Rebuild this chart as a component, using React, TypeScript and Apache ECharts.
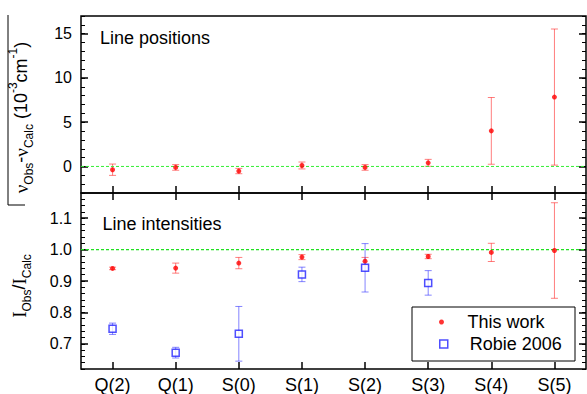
import React, { useEffect, useRef } from 'react';
import * as echarts from 'echarts';

const categories = ['Q(2)', 'Q(1)', 'S(0)', 'S(1)', 'S(2)', 'S(3)', 'S(4)', 'S(5)'];
const positionValues = [-0.37, -0.11, -0.52, 0.11, -0.11, 0.41, 4.02, 7.84];
const positionErrors = [0.64, 0.32, 0.3, 0.39, 0.32, 0.39, 3.77, 7.69];
const intensityValues = [0.94, 0.941, 0.957, 0.976, 0.963, 0.978, 0.991, 0.997];
const intensityErrors = [0.004, 0.016, 0.018, 0.008, 0.012, 0.007, 0.029, 0.152];
const robieCategories = ['Q(2)', 'Q(1)', 'S(0)', 'S(1)', 'S(2)', 'S(3)'];
const robieValues = [0.748, 0.672, 0.732, 0.921, 0.942, 0.894];
const robieErrors = [0.018, 0.017, 0.087, 0.023, 0.077, 0.039];
const positionReference = 0;
const intensityReference = 1.0;

const posMajorTicks = [0, 5, 10, 15];
const posMinorTicks = [-3, -2, -1, 0, 1, 2, 3, 4, 5, 6, 7, 8, 9, 10, 11, 12, 13, 14, 15, 16, 17];
const intMajorTicks = [0.7, 0.8, 0.9, 1.0, 1.1];
const intMinorTicks = [0.62, 0.64, 0.66, 0.68, 0.7, 0.72, 0.74, 0.76, 0.78, 0.8, 0.82, 0.84, 0.86, 0.88, 0.9,
  0.92, 0.94, 0.96, 0.98, 1.0, 1.02, 1.04, 1.06, 1.08, 1.1, 1.12, 1.14, 1.16, 1.18];

const SANS = '"Liberation Sans", Arial, sans-serif';
const SERIF = '"Liberation Serif", "Times New Roman", serif';

const errorBar = (color: string, cap: number) => (params: any, api: any) => {
  const x = api.value(0);
  const lo = api.coord([x, api.value(1)]);
  const hi = api.coord([x, api.value(2)]);
  const style = { stroke: color, lineWidth: 1 };
  return {
    type: 'group',
    children: [
      { type: 'line', shape: { x1: lo[0], y1: lo[1], x2: hi[0], y2: hi[1] }, style },
      { type: 'line', shape: { x1: lo[0] - cap, y1: lo[1], x2: lo[0] + cap, y2: lo[1] }, style },
      { type: 'line', shape: { x1: hi[0] - cap, y1: hi[1], x2: hi[0] + cap, y2: hi[1] }, style },
    ],
  };
};

const yAx = (grid: number, min: number, max: number, pos: string, ticks: number[], len: number, w: number, labels?: any) => ({
  type: 'value',
  gridIndex: grid,
  min,
  max,
  position: pos,
  axisLine: { show: false, onZero: false },
  splitLine: { show: false },
  axisTick: { show: true, inside: true, length: len, customValues: ticks, lineStyle: { color: '#000', width: w } },
  axisLabel: labels
    ? { show: true, customValues: ticks, margin: 9, color: '#000', fontSize: 16, fontFamily: SANS, formatter: labels }
    : { show: false },
});

const xAx = (grid: number, pos: string, showLabel: boolean) => ({
  type: 'category',
  gridIndex: grid,
  data: categories,
  position: pos,
  boundaryGap: true,
  axisLine: { show: false, onZero: false },
  splitLine: { show: false },
  axisTick: { show: true, inside: true, length: 7, alignWithLabel: true, lineStyle: { color: '#000', width: 1.5 } },
  axisLabel: showLabel
    ? { show: true, margin: 7, color: '#000', fontSize: 18, fontFamily: SANS, interval: 0 }
    : { show: false },
});

const hiddenX = (grid: number) => ({
  type: 'value', gridIndex: grid, min: 0, max: 1, show: false,
  axisLine: { show: false, onZero: false }, splitLine: { show: false },
});

export default function App() {
  const ref = useRef<HTMLDivElement>(null);
  useEffect(() => {
    if (!ref.current) return;
    const chart = echarts.init(ref.current, null, { renderer: 'svg' });
    const posErrData = positionValues.map((v, i) => [i, v - positionErrors[i], v + positionErrors[i]]);
    const intErrData = intensityValues.map((v, i) => [i, v - intensityErrors[i], v + intensityErrors[i]]);
    const robieErrData = robieValues.map((v, i) => [categories.indexOf(robieCategories[i]), v - robieErrors[i], v + robieErrors[i]]);
    const refLine = (xIdx: number, yIdx: number, y: number, color: string, w: number) => ({
      type: 'line', name: 'ref' + yIdx, xAxisIndex: xIdx, yAxisIndex: yIdx,
      data: [[0, y], [1, y]], symbol: 'none', silent: true,
      lineStyle: { color, type: [3, 2], width: w, opacity: 1 },
      itemStyle: { color },
      emphasis: { disabled: true }, z: 5,
    });
    const option: any = {
      animation: false,
      backgroundColor: '#fff',
      textStyle: { fontFamily: SANS },
      grid: [
        { left: 81, top: 16, width: 505, height: 177, show: true, borderColor: '#000', borderWidth: 1.5, backgroundColor: 'transparent' },
        { left: 81, top: 193, width: 505, height: 177, show: true, borderColor: '#000', borderWidth: 1.5, backgroundColor: 'transparent' },
      ],
      xAxis: [xAx(0, 'bottom', false), xAx(1, 'top', false), xAx(1, 'bottom', true), hiddenX(0), hiddenX(1)],
      yAxis: [
        yAx(0, -3, 17, 'left', posMajorTicks, 7, 1.5, (v: number) => String(v)),
        yAx(0, -3, 17, 'left', posMinorTicks, 4, 1),
        yAx(0, -3, 17, 'right', posMajorTicks, 7, 1.5),
        yAx(0, -3, 17, 'right', posMinorTicks, 4, 1),
        yAx(1, 0.62, 1.18, 'left', intMajorTicks, 7, 1.5, (v: number) => v.toFixed(1)),
        yAx(1, 0.62, 1.18, 'left', intMinorTicks, 4, 1),
        yAx(1, 0.62, 1.18, 'right', intMajorTicks, 7, 1.5),
        yAx(1, 0.62, 1.18, 'right', intMinorTicks, 4, 1),
      ],
      legend: [
        {
          data: [{ name: 'This work', icon: 'circle' }],
          left: 439, top: 313, padding: 0, itemWidth: 42, itemHeight: 5,
          textStyle: { fontSize: 18, color: '#000', fontFamily: SANS },
          selectedMode: false,
        },
        {
          data: [{ name: 'Robie 2006', icon: 'path://M0,0L8,0L8,8L0,8Z', itemStyle: { color: '#fff', borderColor: '#2222ff', borderWidth: 1.5 } }],
          left: 439, top: 335, padding: 0, itemWidth: 42, itemHeight: 8, symbolKeepAspect: true,
          textStyle: { fontSize: 18, color: '#000', fontFamily: SANS },
          selectedMode: false,
        },
      ],
      graphic: [
        { type: 'rect', shape: { x: 412, y: 307, width: 163, height: 54 }, style: { fill: 'none', stroke: '#000', lineWidth: 1 }, z: 1 },
        { type: 'text', x: 100, y: 37.5, style: { text: 'Line positions', fontSize: 18, fontFamily: SANS, fill: '#000', verticalAlign: 'middle' } },
        { type: 'text', x: 102.5, y: 224, style: { text: 'Line intensities', fontSize: 18, fontFamily: SANS, fill: '#000', verticalAlign: 'middle' } },
        {
          type: 'text', x: 21, y: 117.5, rotation: Math.PI / 2,
          style: {
            text: '{v|ν}{sub|Obs}{m|-}{v|ν}{sub|Calc}{m| (10}{sup|-3}{m|cm}{sup|-1}{m|)}',
            align: 'center', verticalAlign: 'middle', fill: '#000', fontSize: 18, fontFamily: SANS,
            rich: {
              v: { fontFamily: SERIF, fontSize: 19, lineHeight: 28 },
              m: { fontFamily: SANS, fontSize: 18, lineHeight: 28 },
              sub: { fontFamily: SANS, fontSize: 12, lineHeight: 12, verticalAlign: 'bottom' },
              sup: { fontFamily: SANS, fontSize: 12, lineHeight: 12, verticalAlign: 'top' },
            },
          },
        },
        {
          type: 'text', x: 19, y: 286, rotation: Math.PI / 2,
          style: {
            text: '{i|I}{sub|Obs}{m|/}{i|I}{sub|Calc}',
            align: 'center', verticalAlign: 'middle', fill: '#000', fontSize: 18, fontFamily: SANS,
            rich: {
              i: { fontFamily: SERIF, fontSize: 19, lineHeight: 28 },
              m: { fontFamily: SANS, fontSize: 18, lineHeight: 28 },
              sub: { fontFamily: SANS, fontSize: 12, lineHeight: 12, verticalAlign: 'bottom' },
            },
          },
        },
        { type: 'polyline', shape: { points: [[8, 15], [8, 205], [25, 205]] }, style: { stroke: '#000', lineWidth: 1, fill: 'none' } },
      ],
      series: [
        refLine(3, 0, positionReference, '#33ee33', 1),
        refLine(4, 4, intensityReference, '#1fe01f', 1.3),
        {
          type: 'custom', name: 'posErr', xAxisIndex: 0, yAxisIndex: 0, data: posErrData,
          encode: { x: 0, y: [1, 2] }, renderItem: errorBar('rgba(255,40,40,0.6)', 3.5), z: 2,
        },
        {
          type: 'scatter', name: 'This work', xAxisIndex: 0, yAxisIndex: 0,
          data: positionValues.map((v, i) => [i, v]), symbol: 'circle', symbolSize: 5,
          itemStyle: { color: '#ff0000' }, z: 6,
        },
        {
          type: 'custom', name: 'intErr', xAxisIndex: 2, yAxisIndex: 4, data: intErrData,
          encode: { x: 0, y: [1, 2] }, renderItem: errorBar('rgba(255,40,40,0.6)', 3.5), z: 2,
        },
        {
          type: 'custom', name: 'robieErr', xAxisIndex: 2, yAxisIndex: 4, data: robieErrData,
          encode: { x: 0, y: [1, 2] }, renderItem: errorBar('rgba(50,50,255,0.6)', 3.5), z: 2,
        },
        {
          type: 'scatter', name: 'This work', xAxisIndex: 2, yAxisIndex: 4,
          data: intensityValues.map((v, i) => [i, v]), symbol: 'circle', symbolSize: 5,
          itemStyle: { color: '#ff0000' }, z: 6,
        },
        {
          type: 'scatter', name: 'Robie 2006', xAxisIndex: 2, yAxisIndex: 4,
          data: robieValues.map((v, i) => [categories.indexOf(robieCategories[i]), v]), symbol: 'rect', symbolSize: 7,
          itemStyle: { color: '#fff', borderColor: '#2222ff', borderWidth: 1.5 }, z: 7,
        },
      ],
    };
    chart.setOption(option);
    return () => chart.dispose();
  }, []);
  return <div ref={ref} style={{ position: 'fixed', left: 0, top: 0, width: 587, height: 394, background: '#fff' }} />;
}
